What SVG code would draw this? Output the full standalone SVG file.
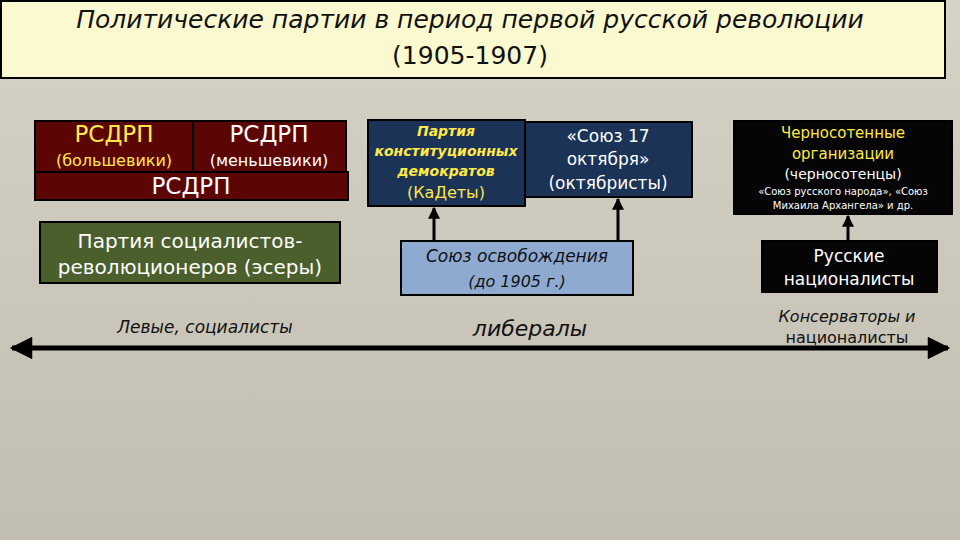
<svg xmlns="http://www.w3.org/2000/svg" width="960" height="540" viewBox="0 0 960 540">
<defs>
<linearGradient id="bg" x1="0" y1="0" x2="0" y2="1"><stop offset="0" stop-color="#d6d2c6"/><stop offset="1" stop-color="#c2bdb1"/></linearGradient>
<marker id="ah" viewBox="0 0 10 10" refX="9" refY="5" markerWidth="4" markerHeight="4" orient="auto"><path d="M0,0L10,5L0,10z" fill="#000"/></marker>
<marker id="big" viewBox="0 0 10 10" refX="9" refY="5" markerWidth="6" markerHeight="4.5" orient="auto-start-reverse"><path d="M0,0L10,5L0,10z" fill="#000"/></marker>
</defs>
<style>
text{font-family:"Comic Sans MS","DejaVu Sans",sans-serif;text-anchor:middle}
.b{stroke:#000;stroke-width:2}
.w{fill:#fff}.y{fill:#ffe84a}.k{fill:#111}
</style>
<rect width="960" height="540" fill="url(#bg)"/>
<g id="title"><rect x="1" y="1" width="944" height="77" fill="#fbf9cf" stroke="#000" stroke-width="2"/>
<text x="470" y="28" font-size="25" class="k" font-style="italic">Политические партии в период первой русской революции</text>
<text x="470" y="64" font-size="25" class="k">(1905-1907)</text></g>
<g id="connectors" stroke="#000" stroke-width="3" fill="none">
<line x1="434" y1="241" x2="434" y2="208" marker-end="url(#ah)"/>
<line x1="618" y1="241" x2="618" y2="199" marker-end="url(#ah)"/>
<line x1="848" y1="241" x2="848" y2="216" marker-end="url(#ah)"/>
<line x1="12" y1="348" x2="948" y2="348" stroke-width="5" marker-start="url(#big)" marker-end="url(#big)"/>
</g>
<g id="rsdrp"><rect x="35" y="172" width="313" height="28" fill="#5c0505" class="b"/>
<text x="191" y="194" font-size="23" class="w">РСДРП</text></g>
<g id="bolsheviki"><rect x="35" y="121" width="158" height="51" fill="#5c0505" class="b"/>
<text x="114" y="142" font-size="23" class="y">РСДРП</text><text x="114" y="166" font-size="16" class="y">(большевики)</text></g>
<g id="mensheviki"><rect x="193" y="121" width="153" height="51" fill="#5c0505" class="b"/>
<text x="269" y="142" font-size="23" class="w">РСДРП</text><text x="269" y="166" font-size="16" class="w">(меньшевики)</text></g>
<g id="esery"><rect x="40" y="222" width="300" height="61" fill="#4b5f2d" class="b"/>
<text x="190" y="248" font-size="20" class="w">Партия социалистов-</text><text x="190" y="274" font-size="20" class="w">революционеров (эсеры)</text></g>
<g id="kadety"><rect x="368" y="120" width="157" height="86" fill="#1c3358" class="b"/>
<text x="446" y="136" font-size="14" class="y" font-weight="bold" font-style="italic">Партия</text><text x="446" y="156" font-size="14" class="y" font-weight="bold" font-style="italic">конституционных</text><text x="446" y="176" font-size="14" class="y" font-weight="bold" font-style="italic">демократов</text><text x="446" y="198" font-size="16" class="y">(КаДеты)</text></g>
<g id="oktyabristy"><rect x="525" y="122" width="167" height="75" fill="#1c3358" class="b"/>
<text x="608" y="142" font-size="17" class="w">«Союз 17</text><text x="608" y="165" font-size="17" class="w">октября»</text><text x="608" y="189" font-size="17" class="w">(октябристы)</text></g>
<g id="soyuz"><rect x="401" y="241" width="232" height="54" fill="#8faad1" class="b"/>
<text x="517" y="262" font-size="17" class="k" font-style="italic">Союз освобождения</text><text x="517" y="287" font-size="16" class="k" font-style="italic">(до 1905 г.)</text></g>
<g id="chernosotentsy"><rect x="734" y="121" width="218" height="93" fill="#050505" class="b"/>
<text x="843" y="138" font-size="15" class="y">Черносотенные</text><text x="843" y="159" font-size="15" class="y">организации</text><text x="843" y="179" font-size="14" class="w">(черносотенцы)</text>
<text x="843" y="195" font-size="10" class="w">«Союз русского народа», «Союз</text><text x="843" y="209" font-size="10" class="w">Михаила Архангела» и др.</text></g>
<g id="russkie"><rect x="762" y="241" width="175" height="51" fill="#050505" class="b"/>
<text x="849" y="262" font-size="17" class="w">Русские</text><text x="849" y="285" font-size="17" class="w">националисты</text></g>
<g id="labels" class="k">
<text x="205" y="333" font-size="17" font-style="italic">Левые, социалисты</text>
<text x="530" y="336" font-size="22" font-style="italic">либералы</text>
<text x="847" y="322" font-size="16" font-style="italic">Консерваторы и</text>
<text x="847" y="343" font-size="16">националисты</text>
</g>
</svg>
